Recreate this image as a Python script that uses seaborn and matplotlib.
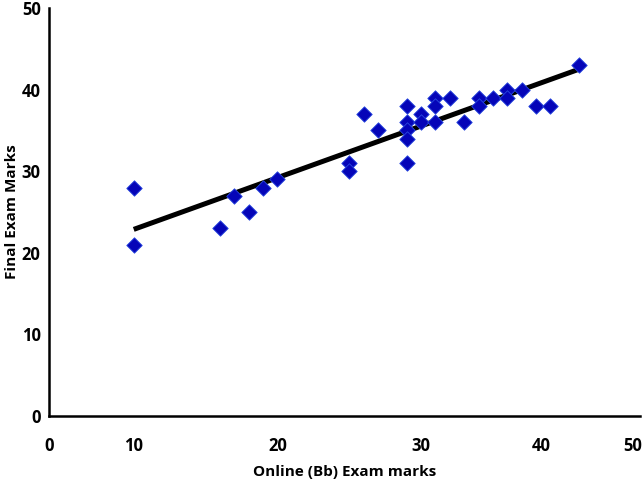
import pandas as pd
import matplotlib
matplotlib.use('Agg')
import matplotlib.pyplot as plt
import seaborn as sns

# marks
online_marks = [10, 10, 16, 17, 18, 19, 20, 25, 25, 26, 27, 29, 29, 29, 29, 29,
                30, 30, 31, 31, 31, 32, 33, 34, 34, 35, 36, 36, 37, 38, 39, 41]
final_marks = [28, 21, 23, 27, 25, 28, 29, 31, 30, 37, 35, 38, 36, 35, 34, 31,
               37, 36, 39, 38, 36, 39, 36, 39, 38, 39, 40, 39, 40, 38, 38, 43]

# the reference prints its x labels at uneven spots
x_tick_labels = ['0', '10', '20', '30', '40', '50']
x_tick_pos = [4.1, 10, 20, 30, 38.4, 44.7]
y_ticks = [0, 10, 20, 30, 40, 50]


def main():
    df = pd.DataFrame({'online': online_marks, 'final': final_marks})

    sns.set_style('white')
    plt.rcParams['font.family'] = ['Open Sans', 'DejaVu Sans']
    plt.rcParams['font.weight'] = 'bold'
    plt.rcParams['text.color'] = 'black'
    plt.rcParams['axes.labelcolor'] = 'black'
    plt.rcParams['xtick.color'] = 'black'
    plt.rcParams['ytick.color'] = 'black'

    fig = plt.figure(figsize=(6.42, 4.83), dpi=100)
    ax = fig.add_axes([0.0763, 0.1387, 0.921, 0.8447])

    sns.regplot(data=df, x='online', y='final', scatter=False, ci=None,
                color='black', line_kws={'linewidth': 3.6, 'solid_capstyle': 'butt'}, ax=ax)
    sns.scatterplot(data=df, x='online', y='final', marker='D', s=62,
                    color='#0505B8', edgecolor='#2A4AE0', linewidth=0.6, zorder=3, ax=ax)

    ax.set_xlim(4.16, 45.26)
    ax.set_ylim(0, 50)
    ax.set_xticks(x_tick_pos)
    ax.set_xticklabels(x_tick_labels, fontweight='bold')
    ax.set_yticks(y_ticks)
    ax.set_yticklabels([str(v) for v in y_ticks], fontweight='bold')
    ax.tick_params(axis='both', length=0, labelsize=12)
    ax.tick_params(axis='x', pad=15)
    ax.tick_params(axis='y', pad=6)

    ax.set_xlabel('Online (Bb) Exam marks', fontsize=11, fontweight='bold', labelpad=7)
    ax.set_ylabel('Final Exam Marks', fontsize=11, fontweight='bold', labelpad=2)

    sns.despine(ax=ax)
    for side in ['left', 'bottom']:
        ax.spines[side].set_linewidth(1.8)
        ax.spines[side].set_color('black')

    fig.savefig('out.png', dpi=100)


if __name__ == '__main__':
    main()
